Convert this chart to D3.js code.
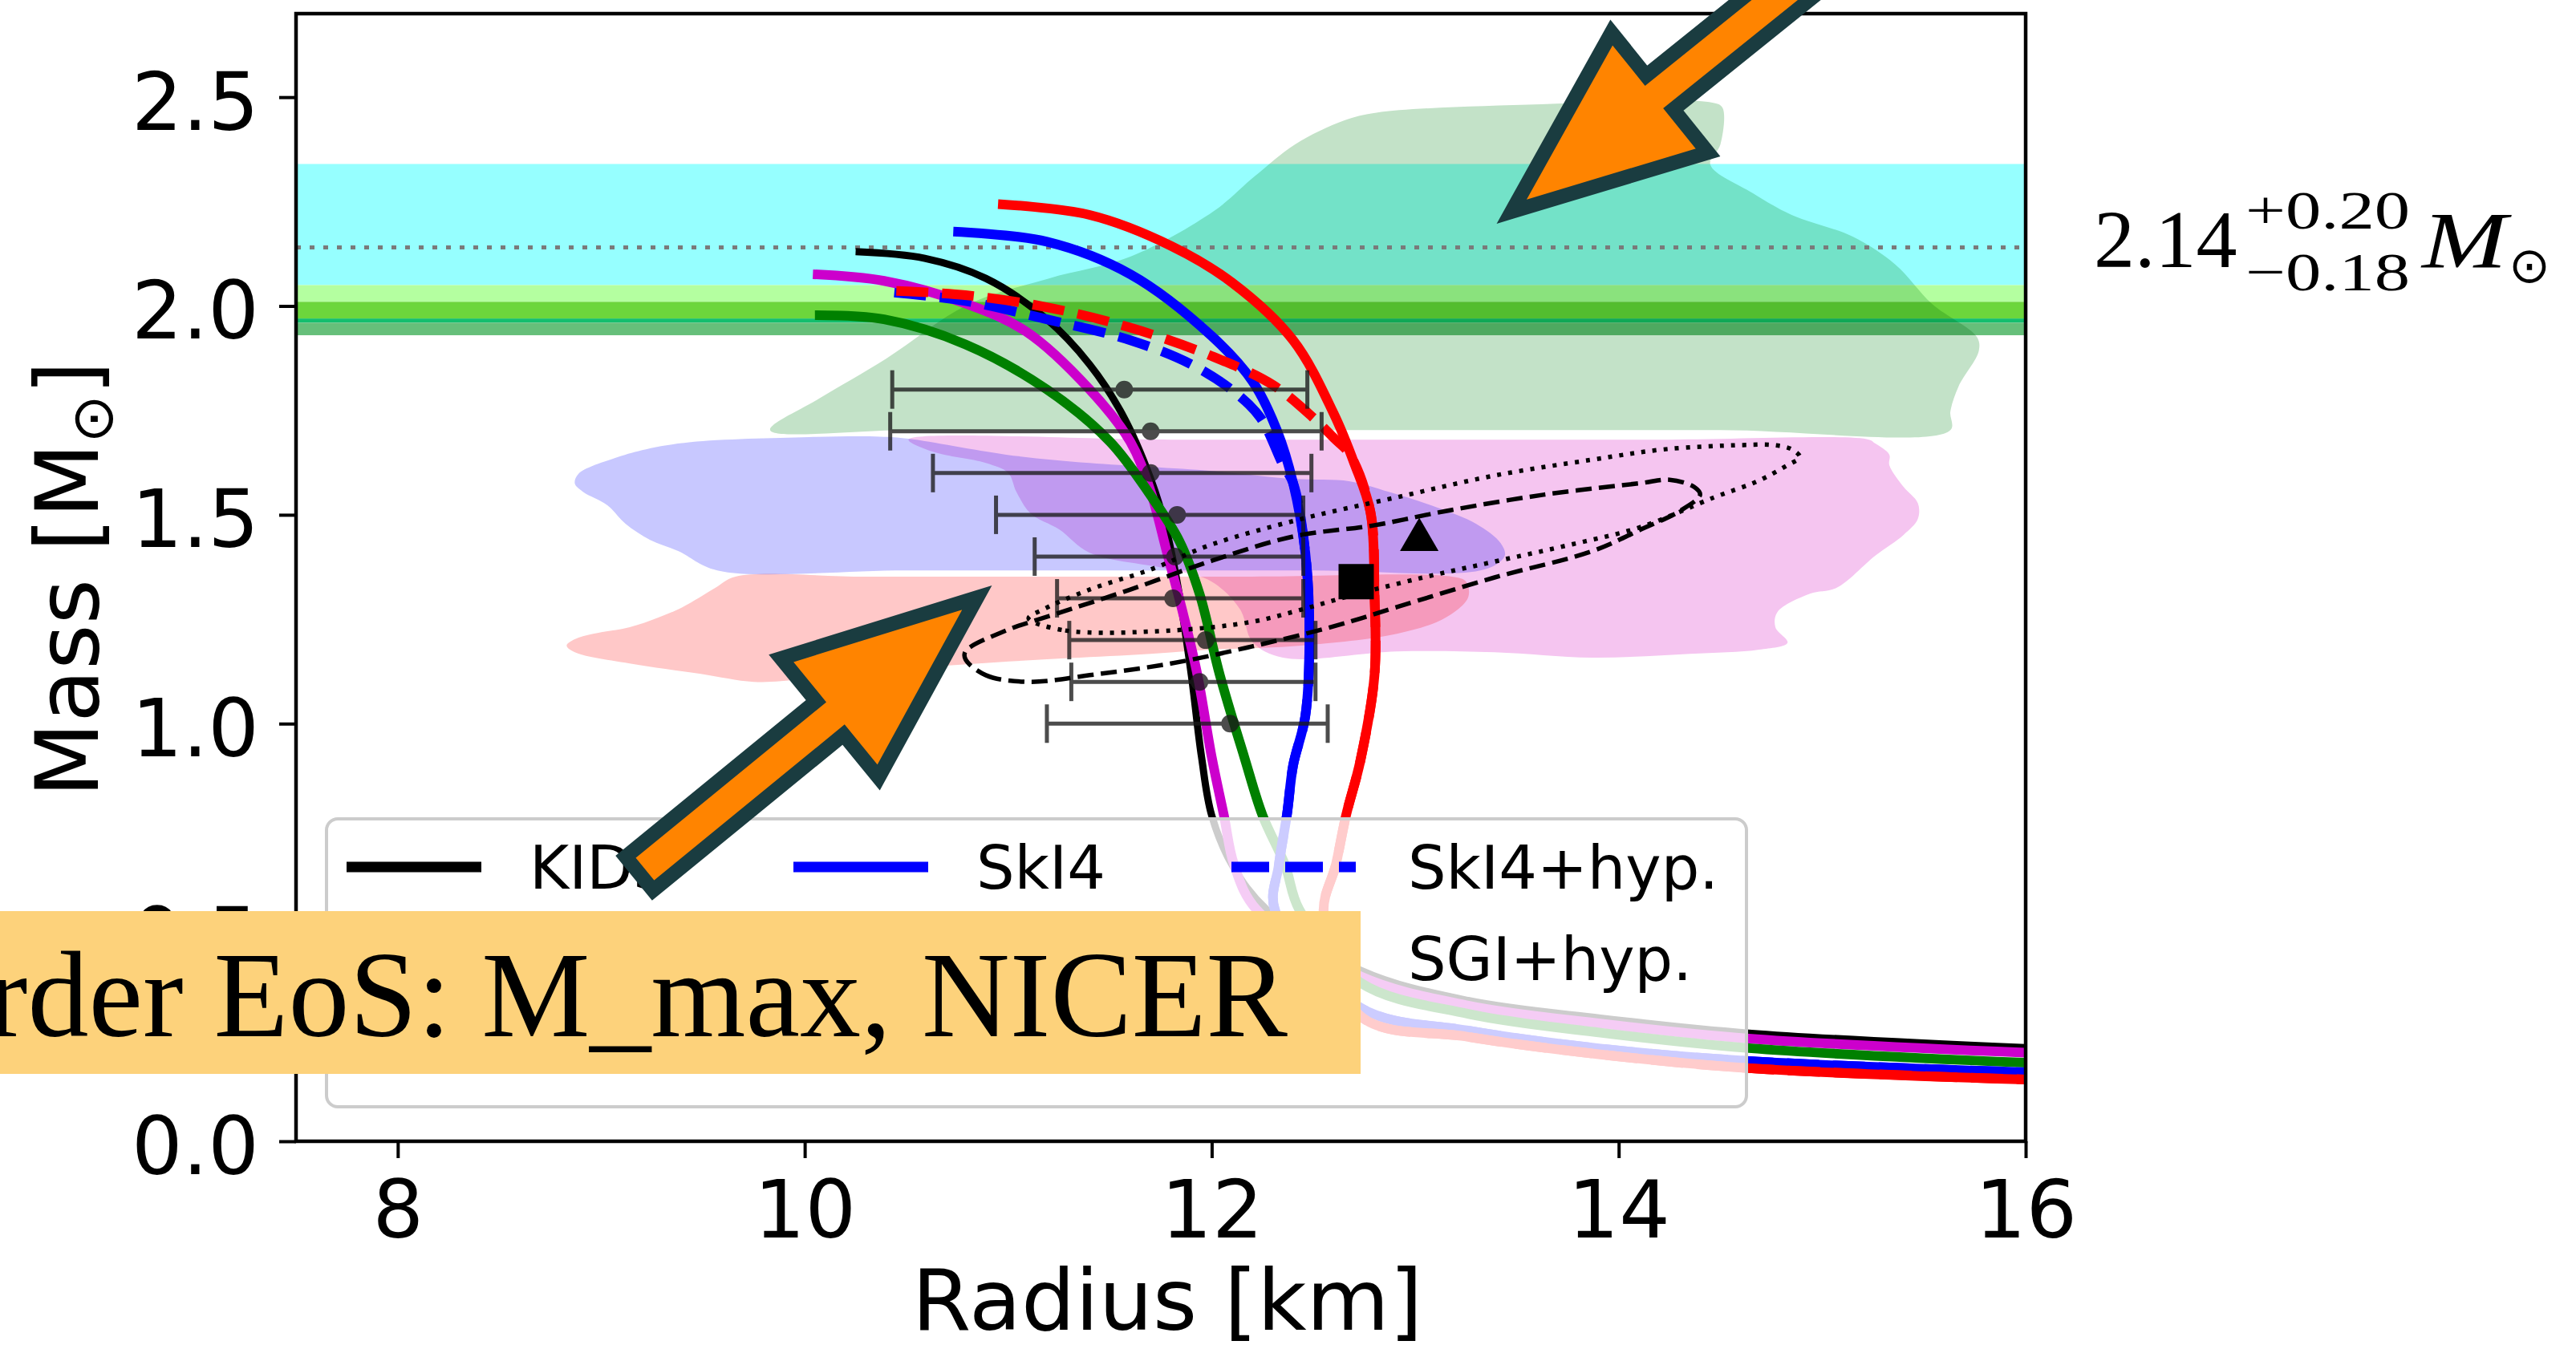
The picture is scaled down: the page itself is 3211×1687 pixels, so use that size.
<!DOCTYPE html>
<html>
<head>
<meta charset="utf-8">
<script src="https://d3js.org/d3.v7.min.js"></script>
<style>
  body { margin: 0; background: #fff; }
  svg { display: block; }
</style>
</head>
<body>
<div id="my_dataviz"></div>
<script>
// ---------- values ----------
const xTicks = [8, 10, 12, 14, 16];
const yTicks = [0.0, 0.5, 1.0, 1.5, 2.0, 2.5];

// horizontal mass bands (Msun), top to bottom
const bandHi = [2.34, 2.05, 2.01, 1.97, 1.96];
const bandLo = [2.05, 2.01, 1.97, 1.96, 1.93];
const bandCentre = 2.14;

// shaded posterior regions (R km, M Msun)
const greenRegR = [9.83, 10.07, 10.40, 10.80, 11.20, 11.60, 12.01, 12.21, 12.41, 12.65, 12.81, 13.62, 14.46, 14.51, 14.50, 14.45, 14.66, 14.85, 15.15, 15.36, 15.54, 15.76, 15.77, 15.67, 15.63, 15.63, 14.5, 13.0, 11.5, 10.5];
const greenRegM = [1.703, 1.778, 1.874, 2.003, 2.066, 2.118, 2.227, 2.310, 2.387, 2.444, 2.463, 2.483, 2.487, 2.475, 2.387, 2.339, 2.270, 2.218, 2.166, 2.099, 2.005, 1.926, 1.893, 1.807, 1.747, 1.703, 1.703, 1.703, 1.703, 1.703];

const blueRegR = [9.57, 9.38, 9.24, 9.12, 9.03, 8.91, 8.87, 8.89, 9.08, 9.22, 9.44, 10.02, 10.37, 10.51, 10.99, 11.40, 12.00, 12.40, 12.68, 12.87, 13.11, 13.30, 13.42, 13.44, 13.34, 12.5, 11.5, 10.5];
const blueRegM = [1.367, 1.413, 1.440, 1.478, 1.523, 1.555, 1.575, 1.599, 1.638, 1.657, 1.674, 1.686, 1.687, 1.682, 1.644, 1.624, 1.605, 1.586, 1.580, 1.555, 1.517, 1.478, 1.432, 1.402, 1.369, 1.367, 1.367, 1.367];

const pinkRegR = [10.51, 10.63, 10.89, 11.00, 11.04, 11.11, 11.25, 11.40, 11.80, 12.00, 12.14, 12.20, 12.35, 12.91, 13.39, 13.87, 14.35, 14.69, 14.83, 14.77, 14.78, 14.94, 15.07, 15.26, 15.40, 15.47, 15.47, 15.40, 15.33, 15.33, 15.26, 15.23, 14.2, 13.0, 11.8];
const pinkRegM = [1.680, 1.651, 1.624, 1.600, 1.555, 1.503, 1.465, 1.409, 1.369, 1.340, 1.273, 1.196, 1.158, 1.173, 1.171, 1.158, 1.167, 1.177, 1.194, 1.231, 1.267, 1.311, 1.325, 1.402, 1.452, 1.490, 1.528, 1.567, 1.619, 1.644, 1.671, 1.680, 1.680, 1.680, 1.680];

const redRegR = [9.66, 9.56, 9.40, 9.28, 9.14, 8.96, 8.87, 8.83, 8.87, 9.14, 9.49, 9.75, 9.99, 10.59, 11.19, 11.60, 12.00, 12.44, 12.91, 13.15, 13.26, 13.25, 13.18, 12.2, 11.2, 10.3];
const redRegM = [1.352, 1.325, 1.279, 1.254, 1.231, 1.215, 1.202, 1.187, 1.171, 1.144, 1.119, 1.100, 1.106, 1.135, 1.154, 1.164, 1.177, 1.187, 1.215, 1.254, 1.302, 1.340, 1.352, 1.352, 1.352, 1.352];

// mass-radius curves
const kidsR = [10.25, 10.59, 10.89, 11.19, 11.40, 11.56, 11.70, 11.78, 11.84, 11.90, 11.95, 12.00, 12.10, 12.27, 12.73, 13.26, 13.91, 14.64, 16.0];
const kidsM = [2.130, 2.114, 2.066, 1.968, 1.860, 1.741, 1.586, 1.458, 1.311, 1.116, 0.920, 0.780, 0.662, 0.555, 0.410, 0.337, 0.295, 0.259, 0.224];

const sly4R = [10.04, 10.39, 10.79, 11.09, 11.40, 11.60, 11.70, 11.78, 11.86, 11.93, 12.00, 12.06, 12.11, 12.22, 12.73, 13.26, 13.91, 14.64, 16.0];
const sly4M = [2.076, 2.060, 2.006, 1.938, 1.800, 1.675, 1.556, 1.410, 1.262, 1.116, 0.920, 0.780, 0.662, 0.555, 0.395, 0.325, 0.282, 0.246, 0.212];

const ski3R = [10.05, 10.39, 10.79, 11.19, 11.50, 11.70, 11.84, 11.94, 12.04, 12.16, 12.25, 12.36, 12.43, 12.73, 13.26, 13.91, 14.64, 16.0];
const ski3M = [1.978, 1.968, 1.908, 1.800, 1.675, 1.546, 1.438, 1.311, 1.116, 0.920, 0.780, 0.662, 0.555, 0.380, 0.305, 0.260, 0.223, 0.188];

const ski4R = [10.73, 11.19, 11.60, 12.00, 12.20, 12.32, 12.40, 12.46, 12.48, 12.46, 12.40, 12.37, 12.33, 12.31, 12.73, 13.26, 13.91, 14.64, 16.0];
const ski4M = [2.178, 2.154, 2.076, 1.928, 1.820, 1.703, 1.576, 1.409, 1.213, 1.018, 0.900, 0.783, 0.662, 0.555, 0.320, 0.265, 0.222, 0.192, 0.165];

const ski4HypR = [10.44, 10.79, 11.19, 11.60, 11.90, 12.12, 12.24, 12.35, 12.40, 12.46, 12.48, 12.46, 12.40, 12.37, 12.33, 12.31, 12.73, 13.26, 13.91, 14.64, 16.0];
const ski4HypM = [2.032, 2.012, 1.968, 1.918, 1.860, 1.791, 1.732, 1.620, 1.576, 1.409, 1.213, 1.018, 0.900, 0.783, 0.662, 0.555, 0.320, 0.265, 0.222, 0.192, 0.165];

const sgiR = [10.95, 11.40, 11.80, 12.10, 12.40, 12.60, 12.70, 12.78, 12.80, 12.80, 12.73, 12.66, 12.61, 12.55, 12.73, 13.26, 13.91, 14.64, 16.0];
const sgiM = [2.244, 2.218, 2.144, 2.056, 1.918, 1.742, 1.624, 1.507, 1.311, 1.116, 0.910, 0.780, 0.662, 0.548, 0.300, 0.250, 0.208, 0.175, 0.148];

const sgiHypR = [10.45, 10.79, 11.19, 11.60, 12.00, 12.30, 12.50, 12.60, 12.68, 12.78, 12.80, 12.80, 12.73, 12.66, 12.61, 12.55, 12.73, 13.26, 13.91, 14.64, 16.0];
const sgiHypM = [2.036, 2.026, 1.997, 1.948, 1.880, 1.811, 1.732, 1.684, 1.644, 1.507, 1.311, 1.116, 0.910, 0.780, 0.662, 0.548, 0.300, 0.250, 0.208, 0.175, 0.148];

// radius constraints with horizontal error bars
const ebMass = [1.8, 1.7, 1.6, 1.5, 1.4, 1.3, 1.2, 1.1, 1.0];
const ebR    = [11.57, 11.70, 11.70, 11.83, 11.82, 11.81, 11.97, 11.94, 12.09];
const ebRLo  = [10.43, 10.42, 10.63, 10.94, 11.13, 11.24, 11.30, 11.31, 11.19];
const ebRHi  = [12.47, 12.54, 12.49, 12.45, 12.45, 12.45, 12.51, 12.51, 12.57];

// contours
const dashedR = [10.79, 10.89, 11.10, 11.40, 11.80, 12.20, 12.60, 12.91, 13.39, 13.87, 14.11, 14.30, 14.40, 14.37, 14.25, 14.11, 13.63, 13.15, 12.80, 12.40, 12.00, 11.60, 11.23, 10.99, 10.79];
const dashedM = [1.154, 1.116, 1.100, 1.116, 1.144, 1.185, 1.233, 1.279, 1.350, 1.413, 1.465, 1.509, 1.548, 1.567, 1.584, 1.576, 1.548, 1.509, 1.475, 1.448, 1.390, 1.321, 1.262, 1.223, 1.173];
const dottedR = [11.10, 11.28, 11.80, 12.20, 12.44, 12.68, 13.04, 13.39, 13.75, 14.11, 14.47, 14.68, 14.83, 14.89, 14.85, 14.76, 14.61, 14.23, 13.87, 13.39, 12.91, 12.44, 12.00, 11.70, 11.40, 11.17];
const dottedM = [1.252, 1.223, 1.223, 1.244, 1.273, 1.306, 1.350, 1.388, 1.427, 1.471, 1.542, 1.580, 1.619, 1.638, 1.657, 1.667, 1.667, 1.657, 1.632, 1.594, 1.542, 1.490, 1.429, 1.369, 1.321, 1.273];

// single markers
const squareR = [12.71], squareM = [1.34];
const triangleR = [13.02], triangleM = [1.44];

// legend (column-major, 3 columns); entries under the caption box are unreadable
const legendLabels = ["KIDS", "", "", "SkI4", "", "SkI4+hyp.", "SGI+hyp."];

// arrows (tip, tail) in data units
const arrowTipR = [13.40, 10.92], arrowTipM = [2.197, 1.331];
const arrowTailR = [15.24, 9.16], arrowTailM = [2.918, 0.630];

// ---------- styles ----------
const bandColors = ["#96ffff", "#b4ffa0", "#6cd63c", "#14be6e", "#66bf7a"];
const legendColors = ["#000000", "#ff0000", "#cc00cc", "#0000ff", "#008000", "#0000ff", "#ff0000"];
const legendDashed = [false, false, false, false, false, true, true];

const W = 3211, H = 1687;
const L = 369, R = 2525, T = 17, B = 1423;

const x = d3.scaleLinear().domain([7.5, 16]).range([L, R]);
const y = d3.scaleLinear().domain([0, 2.7]).range([B, T]);

const svg = d3.select("#my_dataviz").append("svg")
  .attr("width", W).attr("height", H)
  .style("font-family", "DejaVu Sans");
svg.append("rect").attr("width", W).attr("height", H).attr("fill", "#fff");

svg.append("defs").append("clipPath").attr("id", "plotclip")
  .append("rect").attr("x", L).attr("y", T).attr("width", R - L).attr("height", B - T);

const plot = svg.append("g").attr("clip-path", "url(#plotclip)");

// bands
plot.selectAll(".band")
  .data(bandHi.map((hi, i) => ({hi: hi, lo: bandLo[i], c: bandColors[i]})))
  .join("rect")
    .attr("x", L).attr("width", R - L)
    .attr("y", d => y(d.hi))
    .attr("height", d => y(d.lo) - y(d.hi))
    .attr("fill", d => d.c);

const pts = (Rs, Ms) => Rs.map((r, i) => [x(r), y(Ms[i])]);
const closedLine = d3.line().curve(d3.curveCatmullRomClosed.alpha(0.5));
const openLine = d3.line().curve(d3.curveCatmullRom.alpha(0.5));

// shaded regions, multiplied so overlaps darken like the original
const regions = [
  {R: greenRegR, M: greenRegM, c: "#c3e2c8"},
  {R: blueRegR, M: blueRegM, c: "#c8c8ff"},
  {R: pinkRegR, M: pinkRegM, c: "#f5c5f0"},
  {R: redRegR, M: redRegM, c: "#ffc8c8"}
];
plot.selectAll(".region").data(regions).join("path")
  .attr("d", d => closedLine(pts(d.R, d.M)))
  .attr("fill", d => d.c)
  .style("mix-blend-mode", "multiply");

// dotted line at 2.14
plot.append("line")
  .attr("x1", L).attr("x2", R)
  .attr("y1", y(bandCentre)).attr("y2", y(bandCentre))
  .attr("stroke", "#7a7a7a").attr("stroke-width", 5)
  .attr("stroke-dasharray", "6,11");

// M-R curves
const curves = [
  {R: kidsR, M: kidsM, c: "#000000", w: 9, dash: null},
  {R: sly4R, M: sly4M, c: "#cc00cc", w: 12, dash: null},
  {R: ski3R, M: ski3M, c: "#008000", w: 12, dash: null},
  {R: ski4R, M: ski4M, c: "#0000ff", w: 12, dash: null},
  {R: ski4HypR, M: ski4HypM, c: "#0000ff", w: 12, dash: "40,17"},
  {R: sgiR, M: sgiM, c: "#ff0000", w: 12, dash: null},
  {R: sgiHypR, M: sgiHypM, c: "#ff0000", w: 12, dash: "40,17"}
];
plot.selectAll(".curve").data(curves).join("path")
  .attr("d", d => openLine(pts(d.R, d.M)))
  .attr("fill", "none")
  .attr("stroke", d => d.c)
  .attr("stroke-width", d => d.w)
  .attr("stroke-dasharray", d => d.dash);

// error bars
const eb = plot.append("g").attr("opacity", 0.78).attr("stroke", "#1a1a1a").attr("stroke-width", 5);
const ebData = ebMass.map((m, i) => ({m: m, r: ebR[i], lo: ebRLo[i], hi: ebRHi[i]}));
eb.selectAll(".bar").data(ebData).join("line")
  .attr("x1", d => x(d.lo)).attr("x2", d => x(d.hi))
  .attr("y1", d => y(d.m)).attr("y2", d => y(d.m));
eb.selectAll(".capL").data(ebData).join("line")
  .attr("x1", d => x(d.lo)).attr("x2", d => x(d.lo))
  .attr("y1", d => y(d.m) - 24).attr("y2", d => y(d.m) + 24);
eb.selectAll(".capR").data(ebData).join("line")
  .attr("x1", d => x(d.hi)).attr("x2", d => x(d.hi))
  .attr("y1", d => y(d.m) - 24).attr("y2", d => y(d.m) + 24);
eb.selectAll(".dot").data(ebData).join("circle")
  .attr("cx", d => x(d.r)).attr("cy", d => y(d.m)).attr("r", 11)
  .attr("fill", "#1a1a1a").attr("stroke", "none");

// contours
plot.append("path").attr("d", closedLine(pts(dashedR, dashedM)))
  .attr("fill", "none").attr("stroke", "#000").attr("stroke-width", 5.5)
  .attr("stroke-dasharray", "20,9");
plot.append("path").attr("d", closedLine(pts(dottedR, dottedM)))
  .attr("fill", "none").attr("stroke", "#000").attr("stroke-width", 5.5)
  .attr("stroke-dasharray", "5,9");

// markers
plot.selectAll(".sq").data(squareR).join("path")
  .attr("transform", (d, i) => `translate(${x(d)},${y(squareM[i])})`)
  .attr("d", d3.symbol().type(d3.symbolSquare).size(44 * 44))
  .attr("fill", "#000");
plot.selectAll(".tri").data(triangleR).join("path")
  .attr("transform", (d, i) => `translate(${x(d)},${y(triangleM[i])})`)
  .attr("d", d3.symbol().type(d3.symbolTriangle).size(1000))
  .attr("fill", "#000");

// axes
const xAxis = svg.append("g").attr("transform", `translate(0,${B})`)
  .call(d3.axisBottom(x).tickValues(xTicks).tickSize(21).tickSizeOuter(0).tickFormat(d3.format("d")));
const yAxis = svg.append("g").attr("transform", `translate(${L},0)`)
  .call(d3.axisLeft(y).tickValues(yTicks).tickSize(21).tickSizeOuter(0).tickFormat(d3.format(".1f")));
[xAxis, yAxis].forEach(a => {
  a.select(".domain").remove();
  a.selectAll(".tick line").attr("stroke", "#000").attr("stroke-width", 4);
  a.selectAll(".tick text").attr("fill", "#000").style("font-family", "DejaVu Sans").style("font-size", "100px");
});
xAxis.selectAll(".tick text").attr("y", 120).attr("dy", 0);
yAxis.selectAll(".tick text").attr("x", -46).attr("dy", 0).attr("y", 40);

svg.append("rect").attr("x", L).attr("y", T).attr("width", R - L).attr("height", B - T)
  .attr("fill", "none").attr("stroke", "#000").attr("stroke-width", 4.5);

svg.append("text").attr("x", (L + R) / 2 + 8).attr("y", 1658)
  .attr("text-anchor", "middle").style("font-size", "106px").text("Radius [km]");

const ylab = svg.append("text").attr("transform", "translate(122,722) rotate(-90)")
  .attr("text-anchor", "middle").style("font-size", "108px");
ylab.append("tspan").text("Mass [M");
ylab.append("tspan").attr("dy", 18).style("font-size", "72px").text("\u2299");
ylab.append("tspan").attr("dy", -18).text("]");

// legend
const leg = svg.append("g");
leg.append("rect").attr("x", 407).attr("y", 1021).attr("width", 1770).attr("height", 359)
  .attr("rx", 14).attr("fill", "#fff").attr("fill-opacity", 0.8)
  .attr("stroke", "#cccccc").attr("stroke-width", 4);
const colHandle = [432, 989, 1535], colText = [660, 1217, 1755], rowY = [1081, 1195, 1309];
const colOf = [0, 0, 0, 1, 1, 2, 2], rowOf = [0, 1, 2, 0, 1, 0, 1];
legendLabels.forEach((lab, i) => {
  const cx = colHandle[colOf[i]], cy = rowY[rowOf[i]];
  leg.append("line").attr("x1", cx).attr("x2", cx + (legendDashed[i] ? 155 : 168))
    .attr("y1", cy).attr("y2", cy)
    .attr("stroke", legendColors[i]).attr("stroke-width", 13)
    .attr("stroke-dasharray", legendDashed[i] ? "47,20" : null);
  if (lab) {
    leg.append("text").attr("x", colText[colOf[i]]).attr("y", cy + 27)
      .style("font-size", "75px").attr("fill", "#000").text(lab);
  }
});

// yellow caption box
svg.append("rect").attr("x", 0).attr("y", 1136).attr("width", 1696).attr("height", 203).attr("fill", "#fdd27b");
svg.append("text").attr("x", 1605).attr("y", 1292).attr("text-anchor", "end")
  .style("font-family", "Liberation Serif").style("font-size", "152px").attr("fill", "#000")
  .text("rder EoS: M_max, NICER");

// block arrows
function arrowPath(tip, tail) {
  const dx = tail[0] - tip[0], dy = tail[1] - tip[1];
  const len = Math.hypot(dx, dy);
  const u = [dx / len, dy / len], n = [-u[1], u[0]];
  const t = [tip[0] + u[0] * 24, tip[1] + u[1] * 24];
  const hl = 237, hw = 96, sw = 27;
  const b = [t[0] + u[0] * hl, t[1] + u[1] * hl];
  const e = [tail[0] - u[0] * 9, tail[1] - u[1] * 9];
  const p = (c, s) => [c[0] + n[0] * s, c[1] + n[1] * s];
  return d3.line()([t, p(b, hw), p(b, sw), p(e, sw), p(e, -sw), p(b, -sw), p(b, -hw)]) + "Z";
}
arrowTipR.forEach((r, i) => {
  svg.append("path")
    .attr("d", arrowPath([x(r), y(arrowTipM[i])], [x(arrowTailR[i]), y(arrowTailM[i])]))
    .attr("fill", "#ff8400").attr("stroke", "#1a3c40").attr("stroke-width", 18)
    .attr("stroke-linejoin", "miter");
});

// measured value on the right
const eq = svg.append("g").style("font-family", "Liberation Serif").attr("fill", "#000");
eq.append("text").attr("x", 2610).attr("y", 333).style("font-size", "102px").text("2.14");
eq.append("text").attr("x", 2799).attr("y", 285).style("font-size", "68px")
  .attr("textLength", 205).attr("lengthAdjust", "spacingAndGlyphs").text("+0.20");
eq.append("text").attr("x", 2799).attr("y", 362).style("font-size", "68px")
  .attr("textLength", 205).attr("lengthAdjust", "spacingAndGlyphs").text("\u22120.18");
eq.append("text").attr("x", 3019).attr("y", 333).style("font-size", "100px").style("font-style", "italic")
  .attr("textLength", 106).attr("lengthAdjust", "spacingAndGlyphs").text("M");
eq.append("text").attr("x", 3127).attr("y", 352).style("font-family", "DejaVu Sans").style("font-size", "62px").text("\u2299");
</script>
</body>
</html>
